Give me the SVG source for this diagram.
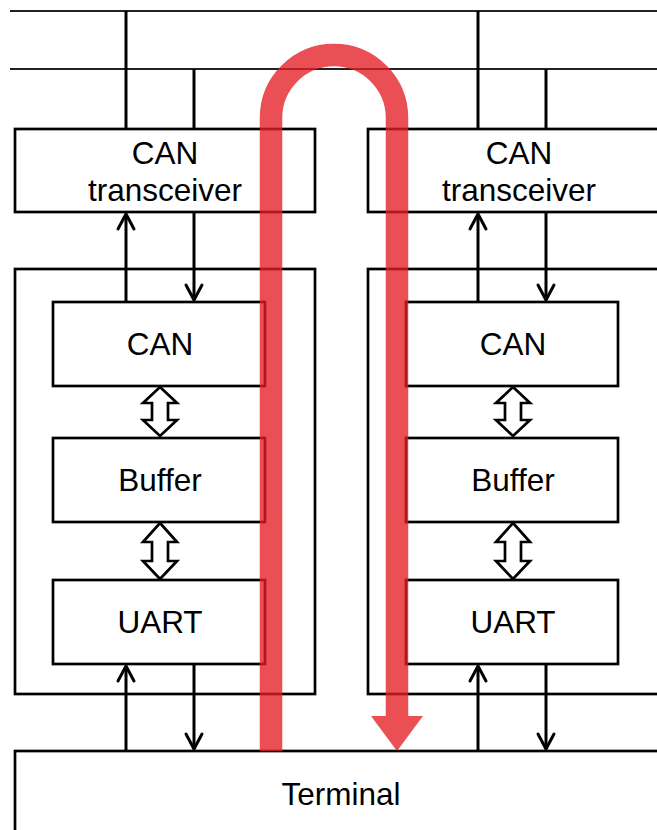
<svg xmlns="http://www.w3.org/2000/svg" width="657" height="830" viewBox="0 0 657 830">
<defs>
<style>
.box{fill:#fff;stroke:#000;stroke-width:2.7}
.bus{stroke:#222;stroke-width:1.8;fill:none}
.ln{stroke:#000;stroke-width:3;fill:none}
.hd{stroke:#000;stroke-width:3;fill:none;stroke-linecap:round;stroke-linejoin:miter}
.dbl{fill:#fff;stroke:#000;stroke-width:2.7;stroke-linejoin:miter}
.t{font-family:"Liberation Sans",Arial,sans-serif;font-size:31.5px;fill:#000;text-anchor:middle}
</style>
</defs>
<rect width="657" height="830" fill="#fff"/>
<g id="bus">
<line class="bus" x1="10" y1="11" x2="657" y2="11"/>
<line class="bus" x1="10" y1="69" x2="657" y2="69"/>
</g>
<g id="transceiver-left">
<rect class="box" x="15" y="129" width="300" height="83"/>
<text class="t" x="165" y="164">CAN</text>
<text class="t" x="165" y="201">transceiver</text>
</g>
<g id="transceiver-right">
<rect class="box" x="368" y="129" width="302" height="83"/>
<text class="t" x="519" y="164">CAN</text>
<text class="t" x="519" y="201">transceiver</text>
</g>
<g id="module-left">
<rect class="box" x="15" y="269" width="300" height="425"/>
</g>
<g id="module-right">
<rect class="box" x="368" y="269" width="302" height="425"/>
</g>
<g id="can-left"><rect class="box" x="53" y="302" width="212" height="84"/><text class="t" x="160" y="355">CAN</text></g>
<g id="buffer-left"><rect class="box" x="53" y="438" width="212" height="84"/><text class="t" x="160" y="491">Buffer</text></g>
<g id="uart-left"><rect class="box" x="53" y="580" width="212" height="84"/><text class="t" x="160" y="633">UART</text></g>
<g id="can-right"><rect class="box" x="406" y="302" width="212" height="84"/><text class="t" x="513" y="355">CAN</text></g>
<g id="buffer-right"><rect class="box" x="406" y="438" width="212" height="84"/><text class="t" x="513" y="491">Buffer</text></g>
<g id="uart-right"><rect class="box" x="406" y="580" width="212" height="84"/><text class="t" x="513" y="633">UART</text></g>
<g id="terminal">
<rect class="box" x="15" y="751" width="660" height="100"/>
<text class="t" x="341" y="805">Terminal</text>
</g>
<g id="connectors">
<line class="ln" x1="126" y1="11" x2="126" y2="129"/>
<line class="ln" x1="194" y1="69" x2="194" y2="129"/>
<line class="ln" x1="478" y1="11" x2="478" y2="129"/>
<line class="ln" x1="546" y1="69" x2="546" y2="129"/>
<line class="ln" x1="126" y1="302" x2="126" y2="214"/>
<polyline class="hd" points="118,229 126,214 134,229"/>
<line class="ln" x1="194" y1="212" x2="194" y2="300"/>
<polyline class="hd" points="186,285 194,300 202,285"/>
<line class="ln" x1="478" y1="302" x2="478" y2="214"/>
<polyline class="hd" points="470,229 478,214 486,229"/>
<line class="ln" x1="546" y1="212" x2="546" y2="300"/>
<polyline class="hd" points="538,285 546,300 554,285"/>
<line class="ln" x1="126" y1="751" x2="126" y2="666"/>
<polyline class="hd" points="118,681 126,666 134,681"/>
<line class="ln" x1="194" y1="664" x2="194" y2="749"/>
<polyline class="hd" points="186,734 194,749 202,734"/>
<line class="ln" x1="478" y1="751" x2="478" y2="666"/>
<polyline class="hd" points="470,681 478,666 486,681"/>
<line class="ln" x1="546" y1="664" x2="546" y2="749"/>
<polyline class="hd" points="538,734 546,749 554,734"/>
<polygon class="dbl" points="160,387 177,403 168,403 168,420 177,420 160,436 143,420 152,420 152,403 143,403"/>
<polygon class="dbl" points="160,523 177,542 168,542 168,561 177,561 160,579 143,561 152,561 152,542 143,542"/>
<polygon class="dbl" points="513,387 530,403 521,403 521,420 530,420 513,436 496,420 505,420 505,403 496,403"/>
<polygon class="dbl" points="513,523 530,542 521,542 521,561 530,561 513,579 496,561 505,561 505,542 496,542"/>
</g>
<g id="flow" opacity="0.78">
<path d="M271,751 V118 A63,63 0 0 1 397,118 V717" fill="none" stroke="#E31E24" stroke-width="22.5"/>
<polygon points="371,716 423,716 397,751" fill="#E31E24"/>
</g>
</svg>
